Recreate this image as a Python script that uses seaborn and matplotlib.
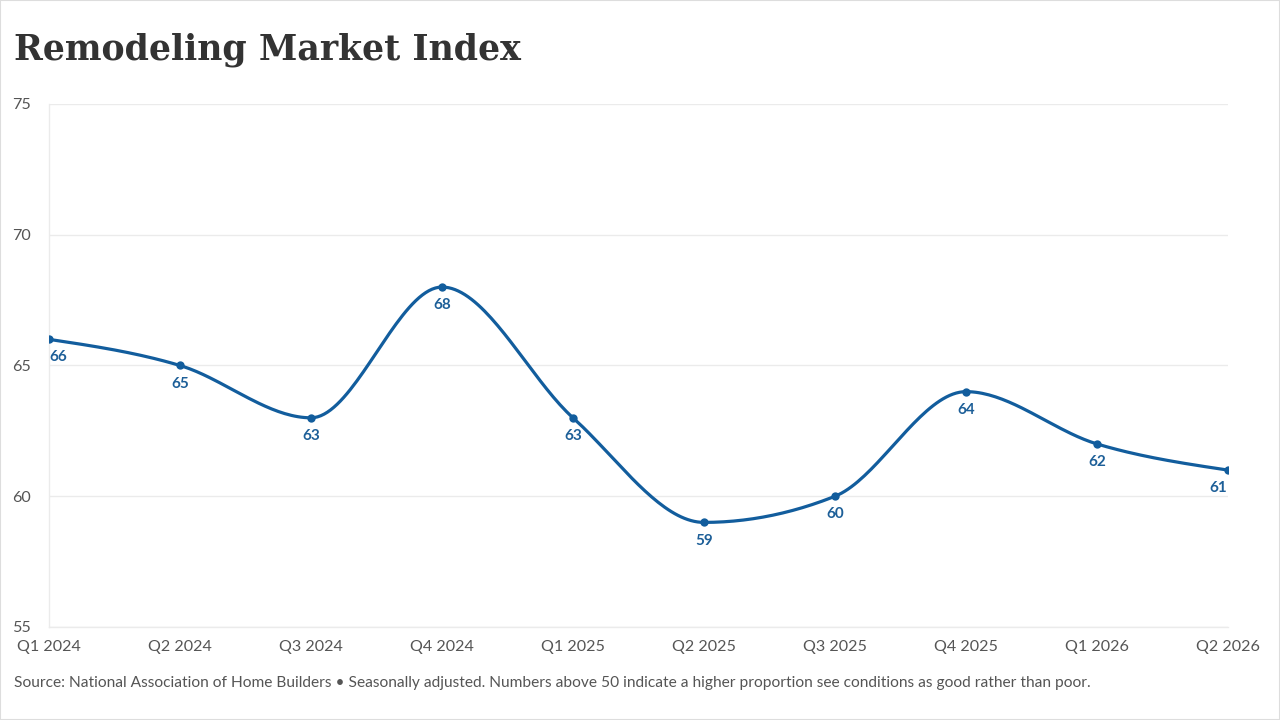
import numpy as np
import pandas as pd
import matplotlib
matplotlib.use("Agg")
import matplotlib.pyplot as plt
import seaborn as sns

quarters = ["Q1 2024", "Q2 2024", "Q3 2024", "Q4 2024", "Q1 2025",
            "Q2 2025", "Q3 2025", "Q4 2025", "Q1 2026", "Q2 2026"]
values = [66, 65, 63, 68, 63, 59, 60, 64, 62, 61]
y_ticks = [55, 60, 65, 70, 75]

title = "Remodeling Market Index"
source = ("Source: National Association of Home Builders \u2022 Seasonally adjusted. "
          "Numbers above 50 indicate a higher proportion see conditions as good rather than poor.")

LINE = "#125d9d"
LABEL = "#1d5f98"
TEXT = "#555555"
GRID = "#ebebeb"

sns.set_theme(style="white")
plt.rcParams["font.family"] = ["Lato", "DejaVu Sans"]


def monotone_curve(x, y, n=40):
    x = np.asarray(x, float)
    y = np.asarray(y, float)
    h = np.diff(x)
    s = np.diff(y) / h
    m = np.zeros_like(y)
    for i in range(1, len(y) - 1):
        if s[i - 1] * s[i] <= 0:
            m[i] = 0.0
        else:
            p = (s[i - 1] * h[i] + s[i] * h[i - 1]) / (h[i - 1] + h[i])
            m[i] = (np.sign(s[i - 1]) + np.sign(s[i])) * min(abs(s[i - 1]), abs(s[i]), 0.5 * abs(p))
    m[0] = (3 * s[0] - m[1]) / 2 if len(y) > 2 else s[0]
    m[-1] = (3 * s[-1] - m[-2]) / 2 if len(y) > 2 else s[-1]
    xs, ys = [], []
    for i in range(len(x) - 1):
        t = np.linspace(0, 1, n, endpoint=(i == len(x) - 2))
        h00 = 2 * t**3 - 3 * t**2 + 1
        h10 = t**3 - 2 * t**2 + t
        h01 = -2 * t**3 + 3 * t**2
        h11 = t**3 - t**2
        xs.append(x[i] + t * h[i])
        ys.append(h00 * y[i] + h10 * h[i] * m[i] + h01 * y[i + 1] + h11 * h[i] * m[i + 1])
    return np.concatenate(xs), np.concatenate(ys)


pos = np.arange(len(quarters))
cx, cy = monotone_curve(pos, values)
curve = pd.DataFrame({"x": cx, "y": cy})
pts = pd.DataFrame({"x": pos, "y": values})

fig = plt.figure(figsize=(12.8, 7.2), dpi=100)
ax = fig.add_axes([49 / 1280, 1 - 627 / 720, (1228 - 49) / 1280, (627 - 104) / 720])

sns.lineplot(data=curve, x="x", y="y", ax=ax, color=LINE, linewidth=2.3, sort=False,
             zorder=3)
sns.scatterplot(data=pts, x="x", y="y", ax=ax, color=LINE, s=36, edgecolor=LINE,
                linewidth=0, zorder=4)

ax.set_xlim(pos[0], pos[-1])
ax.set_ylim(y_ticks[0], y_ticks[-1])
ax.set_yticks(y_ticks)
ax.set_xticks(pos)
ax.set_xticklabels(quarters)
ax.set_xlabel("")
ax.set_ylabel("")
ax.grid(axis="y", color=GRID, linewidth=1)
ax.grid(axis="x", visible=False)
for side in ["top", "right"]:
    ax.spines[side].set_visible(False)
ax.spines["left"].set_color(GRID)
ax.spines["bottom"].set_color(GRID)
ax.spines["left"].set_linewidth(1)
ax.spines["bottom"].set_linewidth(1)
ax.tick_params(axis="both", colors=TEXT, labelsize=11.6, width=1, color=GRID,
               direction="out")
ax.tick_params(axis="x", pad=2, length=7)
ax.tick_params(axis="y", pad=10, length=3)
for lab in ax.get_yticklabels():
    lab.set_color(TEXT)
for lab in ax.get_xticklabels():
    lab.set_color(TEXT)

for i, v in enumerate(values):
    dx = 0
    if i == 0:
        dx = 7
    elif i == len(values) - 1:
        dx = -7
    ax.annotate(str(v), (pos[i], v), xytext=(dx, -8), textcoords="offset points",
                ha="center", va="top", color=LABEL, fontsize=11, fontweight="bold",
                zorder=5)

fig.text(14 / 1280, 1 - 50 / 720, title, fontsize=25, fontweight="bold",
         family=["DejaVu Serif"], color="#333333", ha="left", va="center")
fig.text(14 / 1280, 1 - 683 / 720, source, fontsize=11.2, color=TEXT, ha="left",
         va="center")

fig.patches.append(plt.Rectangle((0, 0), 1, 1, transform=fig.transFigure, fill=False,
                                 edgecolor="#dddddd", linewidth=1.5))

fig.savefig("out.png", dpi=100, facecolor="white")
